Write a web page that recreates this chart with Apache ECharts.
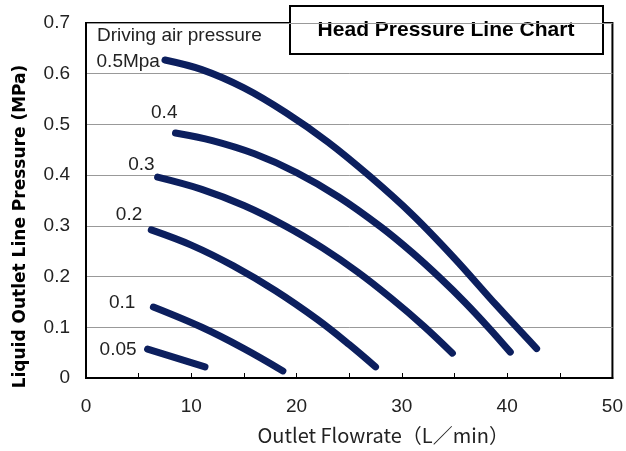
<!DOCTYPE html>
<html>
<head>
<meta charset="utf-8">
<script src="https://cdn.jsdelivr.net/npm/echarts@6/dist/echarts.min.js"></script>
<style>
  html, body { margin: 0; padding: 0; background: #fff; }
  #chart { width: 626px; height: 451px; }
</style>
</head>
<body>
<div id="chart"></div>
<script>
// curve names (driving air pressure)
let curveNames = ['0.5Mpa', '0.4', '0.3', '0.2', '0.1', '0.05']

// flowrate (L/min) and head pressure (MPa)
let flow05 = [7.5, 11, 15, 19, 23, 27, 31, 35, 39, 42.8]
let press05 = [0.627, 0.608, 0.572, 0.523, 0.465, 0.397, 0.322, 0.236, 0.143, 0.058]
let flow04 = [8.5, 12, 16, 20, 24, 28, 31, 33.7, 36, 38.3, 40.3]
let press04 = [0.483, 0.468, 0.442, 0.405, 0.357, 0.298, 0.247, 0.196, 0.149, 0.098, 0.051]
let flow03 = [6.8, 11, 15, 19, 22.5, 25.8, 29, 32.1, 34.8]
let press03 = [0.396, 0.372, 0.340, 0.299, 0.256, 0.209, 0.157, 0.102, 0.049]
let flow02 = [6.2, 10, 14, 18, 22, 25, 27.5]
let press02 = [0.292, 0.262, 0.221, 0.172, 0.115, 0.066, 0.022]
let flow01 = [6.4, 11.0, 15.0, 18.7]
let press01 = [0.140, 0.100, 0.058, 0.014]
let flow005 = [5.85, 11.3]
let press005 = [0.057, 0.022]

// axis ticks
let xTicks = [0, 10, 20, 30, 40, 50]
let yTicks = [0, 0.1, 0.2, 0.3, 0.4, 0.5, 0.6, 0.7]

let flows = [flow05, flow04, flow03, flow02, flow01, flow005]
let presses = [press05, press04, press03, press02, press01, press005]
// where each curve's name sits next to its first point
let labelOffsets = [[-5, 2], [2, -20], [-3, -12], [-9, -15], [-18, -4], [-11, 1]]

let lineColor = '#0c1f5e'
let textColor = '#222'

let series = curveNames.map(function (name, i) {
    let data = flows[i].map(function (x, j) {
        let item = { value: [x, presses[i][j]] }
        if (j === 0) {
            item.label = {
                show: true,
                position: 'left',
                distance: 0,
                offset: labelOffsets[i],
                formatter: name,
                color: textColor,
                fontSize: 19,
                fontFamily: 'Liberation Sans'
            }
        }
        return item
    })
    return {
        name: name,
        type: 'line',
        data: data,
        smooth: 0.35,
        symbol: 'circle',
        symbolSize: 0.1,
        showSymbol: true,
        itemStyle: { color: lineColor },
        lineStyle: { color: lineColor, width: 7, cap: 'round', join: 'round' },
        emphasis: { disabled: true },
        z: 3
    }
})

let chart = echarts.init(document.getElementById('chart'))
let option = {
    backgroundColor: '#fff',
    animation: false,
    grid: {
        left: 86,
        right: 11,
        top: 23,
        bottom: 73,
        show: true,
        backgroundColor: '#fff',
        borderColor: '#000',
        borderWidth: 2
    },
    xAxis: {
        type: 'value',
        min: 0,
        max: 50,
        interval: 5,
        name: 'Outlet Flowrate（L／min）',
        nameLocation: 'middle',
        nameGap: 47,
        nameTextStyle: {
            color: textColor,
            fontSize: 20,
            fontFamily: 'Noto Sans CJK JP',
            padding: [0, 0, 0, 68]
        },
        axisLine: { lineStyle: { color: '#000', width: 2 } },
        axisTick: { inside: true, length: 5, lineStyle: { color: '#000', width: 1 } },
        axisLabel: {
            color: textColor,
            fontSize: 19,
            fontFamily: 'Liberation Sans',
            margin: 19,
            formatter: function (v) {
                return xTicks.indexOf(v) >= 0 ? String(v) : ''
            }
        },
        splitLine: { show: false }
    },
    yAxis: {
        type: 'value',
        min: 0,
        max: 0.7,
        interval: 0.1,
        name: 'Liquid Outlet Line Pressure (MPa)',
        nameLocation: 'middle',
        nameGap: 57,
        nameTextStyle: {
            color: '#000',
            fontSize: 17,
            fontWeight: 'bold',
            fontFamily: 'DejaVu Sans',
            padding: [0, 52, 0, 0]
        },
        axisLine: { show: true, lineStyle: { color: '#000', width: 2 } },
        axisTick: { show: false },
        axisLabel: {
            color: textColor,
            fontSize: 19,
            fontFamily: 'Liberation Sans',
            margin: 16,
            formatter: function (v) {
                let t = yTicks.find(function (k) { return Math.abs(k - v) < 1e-6 })
                return t === undefined ? '' : String(t)
            }
        },
        splitLine: { show: true, lineStyle: { color: '#999', width: 1 } }
    },
    graphic: [
        {
            type: 'text',
            left: 97,
            top: 26,
            z: 10,
            style: { text: 'Driving air pressure', fill: textColor, fontSize: 19, fontFamily: 'Liberation Sans' }
        },
        {
            type: 'group',
            left: 289,
            top: 5,
            z: 20,
            children: [
                {
                    type: 'rect',
                    shape: { x: 0, y: 0, width: 313, height: 48 },
                    style: { fill: '#fff', stroke: '#000', lineWidth: 2 }
                },
                {
                    type: 'text',
                    x: 156,
                    y: 24,
                    style: {
                        text: 'Head Pressure Line Chart',
                        fill: '#000',
                        fontSize: 21,
                        fontWeight: 'bold',
                        fontFamily: 'Liberation Sans',
                        align: 'center',
                        verticalAlign: 'middle'
                    }
                }
            ]
        }
    ],
    series: series
}
chart.setOption(option)
</script>
</body>
</html>
